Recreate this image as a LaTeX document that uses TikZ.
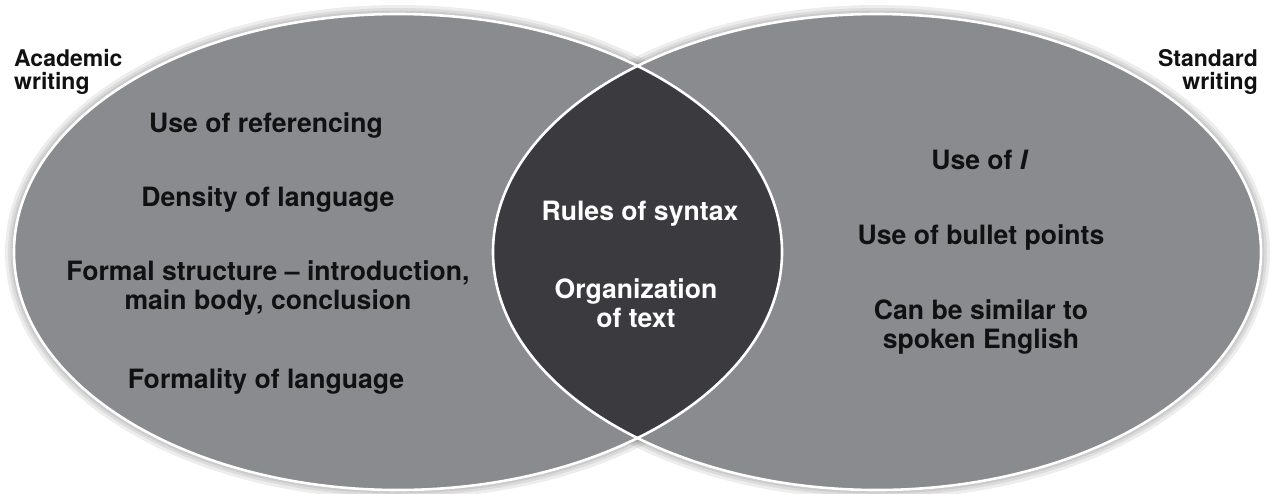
\documentclass[tikz,border=0pt]{standalone}
\usepackage{fontspec}
\setmainfont{TeX Gyre Heros}
\usetikzlibrary{positioning}
\definecolor{venngray}{HTML}{8A8B8F}
\definecolor{venndark}{HTML}{3B3B3F}
\definecolor{inktext}{HTML}{111111}
\tikzset{
  halo/.style={draw=black, draw opacity=0.07},
  setfill/.style={fill=venngray},
  rim/.style={draw=white, line width=2.6pt},
  item/.style={font=\bfseries\fontsize{26.6}{29}\selectfont, text=inktext, align=center, inner sep=0pt},
  itemw/.style={item, text=white},
  setlabel/.style={font=\bfseries\fontsize{23}{23}\selectfont, text=inktext, inner sep=0pt}
}
\begin{document}
\begin{tikzpicture}[x=1pt,y=-1pt]
\useasboundingbox (0,0) rectangle (1273,493);
% soft halo
\foreach \w in {18,12,7,3}{
  \draw[halo, line width=\w pt] (398,252) ellipse [x radius=384, y radius=238];
  \draw[halo, line width=\w pt] (877,252) ellipse [x radius=384, y radius=238];
}
% fills
\fill[setfill] (398,252) ellipse [x radius=384, y radius=238];
\fill[setfill] (877,252) ellipse [x radius=384, y radius=238];
\begin{scope}
  \clip (398,252) ellipse [x radius=384, y radius=238];
  \fill[venndark] (877,252) ellipse [x radius=384, y radius=238];
\end{scope}
% white rims
\draw[rim] (398,252) ellipse [x radius=384, y radius=238];
\draw[rim] (877,252) ellipse [x radius=384, y radius=238];
% set labels
\node[setlabel, align=left, anchor=north west] (acad) at (14,49) {Academic\\writing};
\node[setlabel, align=right, anchor=north east] (std) at (1258,49) {Standard\\writing};
% left items
\node[item] (ref) at (266,125) {Use of referencing};
\node[item] (dens) at (268,199) {Density of language};
\node[item] (formal) at (268,288) {Formal structure -- introduction,\\main body, conclusion};
\node[item] (formality) at (266,381) {Formality of language};
% centre items
\node[itemw] (syntax) at (640,214) {Rules of syntax};
\node[itemw] (org) at (636,303) {Organization\\of text};
% right items
\node[item] (usei) at (980,160) {Use of \textit{I}};
\node[item] (bullet) at (981,237) {Use of bullet points};
\node[item] (spoken) at (981,327) {Can be similar to\\spoken English};
\end{tikzpicture}
\end{document}
